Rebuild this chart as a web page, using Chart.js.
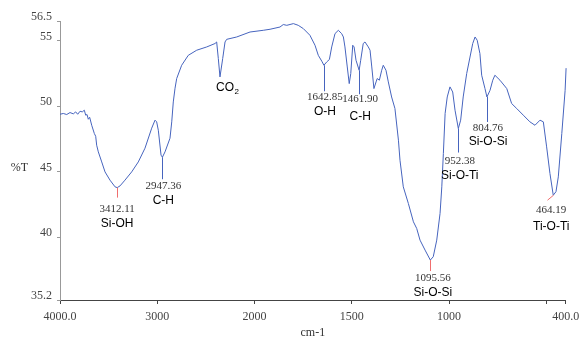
<!DOCTYPE html>
<html>
<head>
<meta charset="utf-8">
<script src="https://cdn.jsdelivr.net/npm/chart.js@4/dist/chart.umd.min.js"></script>
<style>
html, body { margin: 0; padding: 0; background: #fff; }
#wrap { width: 579px; height: 340px; }
</style>
</head>
<body>
<div id="wrap"><canvas id="ftir" width="579" height="340"></canvas></div>
<script>
// 光谱数据 (cm-1, %T)
const wavenumbers = [
    4000, 3966, 3931, 3897, 3863, 3839, 3818, 3794, 3771, 3750, 3736, 3722, 3709, 3695, 3674,
    3647, 3633, 3623, 3606, 3571, 3537, 3486, 3434, 3412, 3383, 3332, 3263, 3195, 3126, 3057,
    3023, 3006, 2989, 2961, 2947, 2920, 2869, 2851, 2835, 2817, 2800, 2749, 2681, 2594, 2491,
    2406, 2389, 2372, 2355, 2327, 2303, 2286, 2183, 2046, 1955, 1920, 1869, 1852, 1834, 1800,
    1775, 1749, 1715, 1689, 1672, 1654, 1643, 1629, 1615, 1603, 1586, 1569, 1552, 1543, 1535,
    1523, 1513, 1505, 1495, 1488, 1478, 1462, 1454, 1441, 1432, 1415, 1406, 1397, 1386, 1375,
    1369, 1358, 1346, 1338, 1324, 1312, 1295, 1278, 1260, 1252, 1235, 1209, 1183, 1166, 1149,
    1123, 1096, 1081, 1063, 1046, 1037, 1029, 1020, 1009, 995, 981, 969, 952, 940, 927,
    909, 892, 878, 866, 855, 841, 832, 815, 805, 789, 775, 764, 738, 703, 678,
    652, 618, 584, 558, 532, 515, 498, 481, 464, 450, 438, 420, 403, 398
];
const transmittance = [
    49.38, 49.44, 49.36, 49.51, 49.41, 49.56, 49.38, 49.61, 49.56, 49.69, 49.31, 49.36, 49.00, 49.15, 48.54,
    47.91, 47.70, 47.02, 46.51, 45.74, 44.98, 44.35, 43.84, 43.78, 43.91, 44.35, 44.98, 45.74, 46.79, 48.32,
    48.93, 48.80, 48.16, 46.26, 46.10, 46.51, 47.55, 48.80, 50.32, 51.37, 52.11, 53.12, 53.88, 54.27, 54.52,
    54.78, 54.90, 53.63, 52.23, 53.63, 54.90, 55.10, 55.28, 55.66, 55.79, 55.87, 56.04, 56.23, 56.17, 56.30,
    56.17, 55.92, 55.41, 54.65, 53.88, 53.43, 53.12, 53.37, 53.56, 54.52, 55.54, 55.79, 55.54, 55.28, 54.52,
    52.99, 51.72, 52.49, 54.65, 54.52, 53.50, 52.74, 53.50, 54.78, 54.90, 54.52, 54.27, 52.99, 51.34, 51.85,
    52.11, 51.98, 52.74, 53.12, 52.74, 51.85, 50.70, 49.82, 47.40, 45.87, 43.84, 42.57, 41.17, 40.66, 39.77,
    39.01, 38.25, 38.50, 39.77, 41.81, 43.84, 46.39, 49.44, 50.70, 51.47, 51.08, 49.69, 48.29, 48.93, 50.70,
    52.49, 53.75, 54.78, 55.28, 55.03, 54.01, 52.36, 51.34, 50.70, 51.21, 51.98, 52.36, 51.98, 51.34, 50.20,
    49.82, 49.31, 48.80, 48.54, 48.93, 48.80, 46.89, 44.86, 43.20, 43.47, 44.60, 47.91, 51.21, 52.90
];

const xTickValues = [4000, 3000, 2000, 1500, 1000, 500, 400];
const xTickLabels = ['4000.0', '3000', '2000', '1500', '1000', '', '400.0'];
const yTickValues = [56.5, 55, 50, 45, 40, 35.2];
const yTickLabels = ['56.5', '55', '50', '45', '40', '35.2'];

// 峰位标注
const peakWavenumbers = [3412.11, 2947.36, 1642.85, 1461.90, 1095.56, 952.38, 804.76, 464.19];
const peakLabels = ['3412.11', '2947.36', '1642.85', '1461.90', '1095.56', '952.38', '804.76', '464.19'];
const peakTransmittance = [43.78, 46.10, 53.12, 52.74, 38.25, 48.29, 50.70, 43.20];
const peakGroups = ['Si-OH', 'C-H', 'O-H', 'C-H', 'Si-O-Si', 'Si-O-Ti', 'Si-O-Si', 'Ti-O-Ti'];
const co2Wavenumber = 2355;
const co2Transmittance = 52.23;

const RED = 'rgb(240, 110, 110)';
const BLUE = 'rgb(70, 100, 190)';

// 标注的线长和文字偏移 (像素)
const peakStyle = [
    { color: RED,  lx: 0,  ly: 10, dx: 0,  num: 21, grp: 36.5 },
    { color: BLUE, lx: 0,  ly: 22, dx: 1,  num: 29, grp: 43.5 },
    { color: BLUE, lx: 0,  ly: 26, dx: 1,  num: 32, grp: 46 },
    { color: BLUE, lx: 0,  ly: 24, dx: 1,  num: 28.5, grp: 46 },
    { color: RED,  lx: 0,  ly: 11, dx: 2.5, num: 18, grp: 33 },
    { color: BLUE, lx: 0,  ly: 24, dx: 1.5, num: 33, grp: 47 },
    { color: BLUE, lx: 0,  ly: 25, dx: 1,  num: 31, grp: 45 },
    { color: RED,  lx: -6, ly: 5,  dx: -2, num: 15, grp: 31.5 }
];

// 横轴: 2000 cm-1 以下按两倍比例展开
function toAxis(w) {
    return w >= 2000 ? 4000 - w : 2000 + (2000 - w) * 2;
}

const points = wavenumbers.map((w, i) => ({ x: toAxis(w), y: transmittance[i] }));

const serif = '"Liberation Serif", "Times New Roman", serif';
const sans = '"Liberation Sans", Arial, sans-serif';

const annotationPlugin = {
    id: 'peakAnnotations',
    afterDatasetsDraw(chart) {
        const { ctx, scales: { x, y } } = chart;
        ctx.save();
        ctx.lineWidth = 1;
        ctx.textAlign = 'center';
        ctx.textBaseline = 'middle';

        peakWavenumbers.forEach((w, i) => {
            const st = peakStyle[i];
            const px = x.getPixelForValue(toAxis(w));
            const py = y.getPixelForValue(peakTransmittance[i]);
            ctx.strokeStyle = st.color;
            ctx.beginPath();
            ctx.moveTo(Math.round(px) + 0.5, py);
            ctx.lineTo(Math.round(px + st.lx) + 0.5, py + st.ly);
            ctx.stroke();

            ctx.fillStyle = '#333';
            ctx.font = '11px ' + serif;
            ctx.fillText(peakLabels[i], px + st.dx, py + st.num);
            ctx.fillStyle = '#000';
            ctx.font = '12px ' + sans;
            ctx.fillText(peakGroups[i], px + st.dx, py + st.grp);
        });

        // CO2
        const cx = x.getPixelForValue(toAxis(co2Wavenumber)) - 4;
        const cy = y.getPixelForValue(co2Transmittance) + 11;
        ctx.textAlign = 'left';
        ctx.fillStyle = '#000';
        ctx.font = '12px ' + sans;
        ctx.fillText('CO', cx, cy);
        const cw = ctx.measureText('CO').width;
        ctx.font = '8px ' + sans;
        ctx.fillText('2', cx + cw + 0.5, cy + 4);

        // 纵轴标题
        ctx.textAlign = 'center';
        ctx.fillStyle = '#333';
        ctx.font = '12px ' + serif;
        ctx.fillText('%T', 19.5, y.getPixelForValue(45) - 4);
        ctx.restore();
    }
};

new Chart(document.getElementById('ftir'), {
    type: 'scatter',
    data: {
        datasets: [{
            data: points,
            showLine: true,
            borderColor: BLUE,
            borderWidth: 1,
            pointRadius: 0,
            tension: 0,
            fill: false,
            clip: false
        }]
    },
    options: {
        responsive: false,
        animation: false,
        devicePixelRatio: 1,
        layout: { padding: { left: 0, right: 13.3, top: 21, bottom: 0 } },
        plugins: {
            legend: { display: false },
            tooltip: { enabled: false }
        },
        scales: {
            x: {
                type: 'linear',
                min: 0,
                max: toAxis(400),
                afterFit: (scale) => {
                    scale.height = 40;
                    // 不让末端刻度文字挤压绘图区
                    scale.paddingLeft = 0;
                    scale.paddingRight = 0;
                },
                afterBuildTicks: (scale) => {
                    scale.ticks = xTickValues.map(v => ({ value: toAxis(v) }));
                },
                ticks: {
                    autoSkip: false,
                    maxRotation: 0,
                    padding: 6,
                    color: '#444',
                    font: { family: serif, size: 12 },
                    callback: (value, index) => xTickLabels[index]
                },
                grid: { display: true, drawOnChartArea: false, drawTicks: true, tickLength: 4, color: '#444' },
                border: { display: true, color: '#444', width: 1 },
                title: {
                    display: true,
                    text: 'cm-1',
                    color: '#333',
                    font: { family: serif, size: 12 },
                    padding: { top: 0, bottom: 0 }
                }
            },
            y: {
                type: 'linear',
                min: 35.2,
                max: 56.5,
                afterFit: (scale) => { scale.width = 60; },
                afterBuildTicks: (scale) => {
                    scale.ticks = yTickValues.map(v => ({ value: v }));
                },
                ticks: {
                    autoSkip: false,
                    padding: 5,
                    labelOffset: -4,
                    color: '#444',
                    font: { family: serif, size: 12 },
                    callback: (value, index) => yTickLabels[index]
                },
                grid: { display: true, drawOnChartArea: false, drawTicks: true, tickLength: 3, color: '#999' },
                border: { display: true, color: '#999', width: 1 }
            }
        }
    },
    plugins: [annotationPlugin]
});
</script>
</body>
</html>
